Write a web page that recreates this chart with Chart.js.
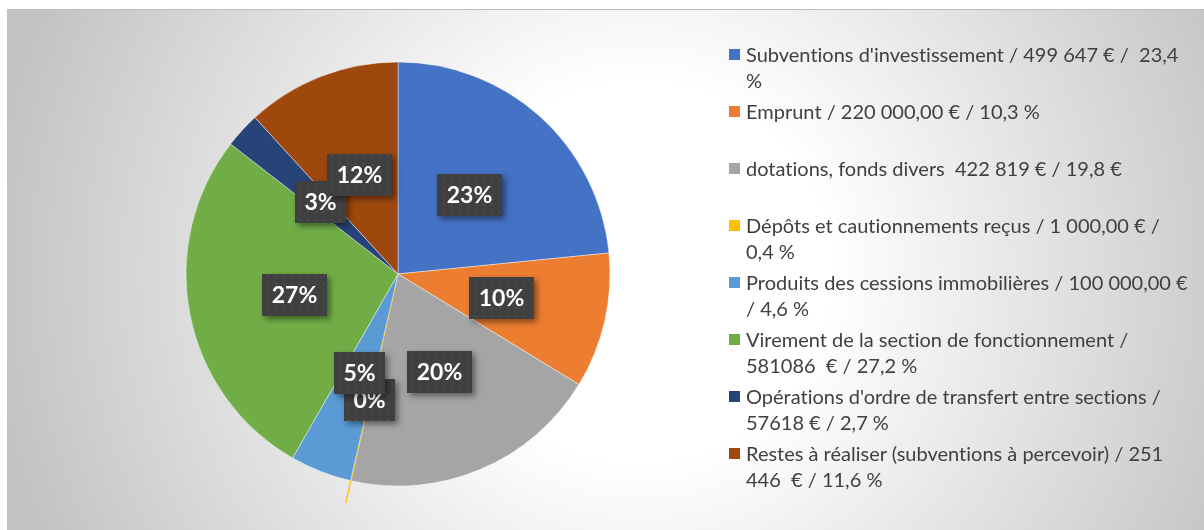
<!DOCTYPE html>
<html><head><meta charset="utf-8">
<script src="https://cdn.jsdelivr.net/npm/chart.js@4.4.0/dist/chart.umd.min.js"></script>
<style>
html,body{margin:0;padding:0;background:#fff;width:1204px;height:530px;overflow:hidden;}
#frame{position:absolute;left:7px;top:9px;width:1220px;height:540px;border-top:1px solid #bdbdbd;
 background: radial-gradient(circle at 633px 262px, #ffffff 0px, #ffffff 190px, #c3c3c3 650px);}
#c{position:absolute;left:0;top:0;}
#legend{position:absolute;left:0;top:0;width:1204px;height:530px;font-family:Lato,sans-serif;font-size:20px;color:#404040;font-variant-ligatures:none;font-feature-settings:"liga" 0;}
.item{position:absolute;left:746px;white-space:pre;line-height:26px;}
.sw{position:absolute;left:-17px;top:7.5px;width:11px;height:11px;}
</style></head>
<body>
<div id="frame"></div>
<canvas id="c" width="1204" height="530"></canvas>
<div id="legend"></div>
<script>
const categories = [
  "Subventions d'investissement / 499 647 € /  23,4\n%",
  "Emprunt / 220 000,00 € / 10,3 %",
  "dotations, fonds divers  422 819 € / 19,8 €",
  "Dépôts et cautionnements reçus / 1 000,00 € /\n0,4 %",
  "Produits des cessions immobilières / 100 000,00 €\n/ 4,6 %",
  "Virement de la section de fonctionnement /\n581086  € / 27,2 %",
  "Opérations d'ordre de transfert entre sections /\n57618 € / 2,7 %",
  "Restes à réaliser (subventions à percevoir) / 251\n446  € / 11,6 %"
];
const values = [499647, 220000, 422819, 1000, 100000, 581086, 57618, 251446];
const colors = ['#4472C4','#ED7D31','#A5A5A5','#FFC000','#5B9BD5','#70AD47','#264478','#9E480E'];

const total = values.reduce((a,b)=>a+b,0);

// dotted texture for label boxes
const pc = document.createElement('canvas'); pc.width = 8; pc.height = 8;
const pctx = pc.getContext('2d');
pctx.fillStyle = '#404040'; pctx.fillRect(0,0,8,8);
pctx.fillStyle = '#4b4b4b'; pctx.fillRect(3,3,2,2);

const labelPlugin = {
  id: 'boxLabels',
  afterDatasetsDraw(chart){
    const ctx = chart.ctx;
    const pattern = ctx.createPattern(pc, 'repeat');
    const meta = chart.getDatasetMeta(0);
    ctx.save();
    ctx.font = 'bold 23px Lato';
    meta.data.forEach((arc, i) => {
      const p = arc.getProps(['x','y','startAngle','endAngle','outerRadius','circumference'], true);
      const mid = (p.startAngle + p.endAngle) / 2;
      const o = (arc.options.offset || 0) / 4;
      const fix = 1 - Math.sin(Math.min(Math.PI, p.circumference || 0));
      const r = p.outerRadius * 0.5 + o + o * fix;
      const cx = p.x + Math.cos(mid) * r, cy = p.y + Math.sin(mid) * r;
      const txt = Math.round(values[i] / total * 100) + '%';
      const w = Math.round(ctx.measureText(txt).width + 19), h = 42;
      const bx = Math.round(cx - w/2), by = Math.round(cy - h/2);
      ctx.save();
      ctx.shadowColor = 'rgba(0,0,0,0.45)'; ctx.shadowBlur = 6; ctx.shadowOffsetX = 3; ctx.shadowOffsetY = 3;
      ctx.fillStyle = '#404040'; ctx.fillRect(bx, by, w, h);
      ctx.restore();
      ctx.fillStyle = pattern; ctx.fillRect(bx, by, w, h);
      ctx.fillStyle = '#ffffff'; ctx.textAlign = 'center'; ctx.textBaseline = 'middle';
      ctx.fillText(txt, bx + w/2, by + h/2 + 1);
    });
    ctx.restore();
  }
};

new Chart(document.getElementById('c'), {
  type: 'pie',
  data: {
    labels: categories,
    datasets: [{
      data: values,
      backgroundColor: colors,
      borderColor: ctx => ctx.dataIndex === 3 ? '#FFC000' : 'rgba(255,255,255,0.55)',
      borderWidth: ctx => ctx.dataIndex === 3 ? 1 : 0.8,
      offset: ctx => ctx.dataIndex === 3 ? 46 : 0,
      radius: 212
    }]
  },
  options: {
    responsive: false,
    animation: false,
    radius: 212,
    layout: { padding: { left: 0, right: 408, top: 18, bottom: 0 } },
    plugins: { legend: { display: false }, tooltip: { enabled: false }, title: { display: false } }
  },
  plugins: [labelPlugin]
});

// HTML legend
const leg = document.getElementById('legend');
categories.forEach((t, i) => {
  const d = document.createElement('div');
  d.className = 'item';
  d.style.top = (41 + 57 * i) + 'px';
  d.textContent = t;
  const s = document.createElement('span');
  s.className = 'sw'; s.style.background = colors[i];
  d.appendChild(s);
  leg.appendChild(d);
});
</script>
</body></html>
